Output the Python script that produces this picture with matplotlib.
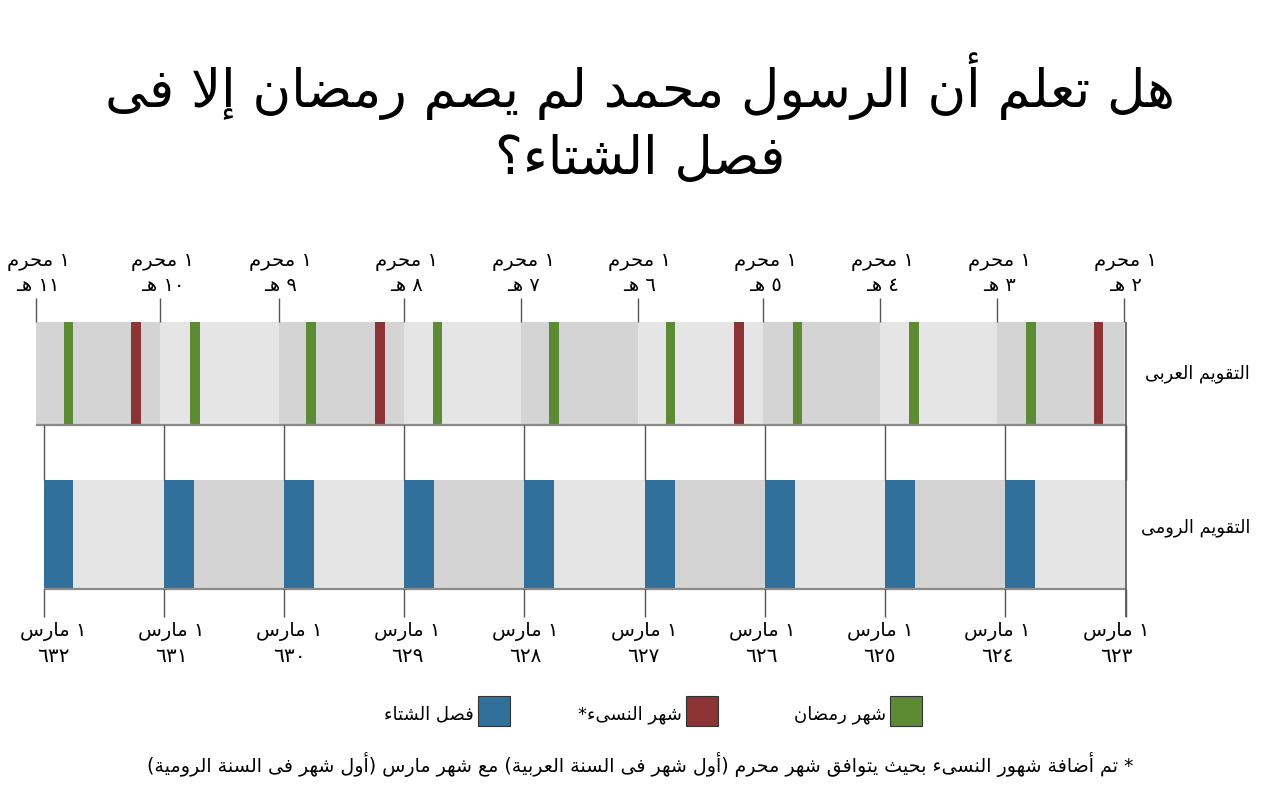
import re
import matplotlib
matplotlib.use('Agg')
import matplotlib.pyplot as plt
from matplotlib.patches import Rectangle

# ---- data (days counted from 1 March 623, time runs right -> left) ----
hijri_labels = ['٢', '٣', '٤', '٥', '٦', '٧', '٨', '٩', '١٠', '١١']
muharram_day = [6, 390, 746, 1101, 1483, 1837, 2192, 2573, 2933, 3311]
ramadan_day = [273, 629, 983, 1368, 1723, 2076, 2461, 2814, 3198]
nasi_day = [68, 1160, 2252, 2992]
month_len = 29

roman_labels = ['٦٢٣', '٦٢٤', '٦٢٥', '٦٢٦', '٦٢٧', '٦٢٨', '٦٢٩', '٦٣٠', '٦٣١', '٦٣٢']
march_day = [0, 366, 731, 1096, 1461, 1827, 2192, 2557, 2922, 3288]
winter_len = 90

title_lines = ['هل تعلم أن الرسول محمد لم يصم رمضان إلا فى', 'فصل الشتاء؟']
row_labels = ['التقويم العربى', 'التقويم الرومى']
legend_labels = ['شهر رمضان', 'شهر النسىء*', 'فصل الشتاء']
footnote = '* تم أضافة شهور النسىء بحيث يتوافق شهر محرم (أول شهر فى السنة العربية) مع شهر مارس (أول شهر فى السنة الرومية)'

GREEN = '#5c8a35'
RED = '#8c3335'
BLUE = '#30709a'
LIGHT = '#e5e5e5'
DARK = '#d4d4d4'

# ---- minimal arabic shaping (no reshaper lib available) ----
AR_LETTERS = 'ءآأؤإئابةتثجحخدذرزسشصضطظعغفقكلمنهوىي'
FORMS = {}
_code = 0xFE80
for _ch in AR_LETTERS:
    _n = 1 if _ch == 'ء' else (2 if _ch in 'آأؤإاةدذرزوى' else 4)
    FORMS[_ch] = [chr(_code + i) for i in range(_n)]
    _code += _n
LAM_ALEF = {'آ': 0xFEF5, 'أ': 0xFEF7, 'إ': 0xFEF9, 'ا': 0xFEFB}


def shape(text):
    toks = []
    i = 0
    while i < len(text):
        c = text[i]
        if c == 'ل' and i + 1 < len(text) and text[i + 1] in LAM_ALEF:
            b = LAM_ALEF[text[i + 1]]
            toks.append([chr(b), chr(b + 1)])
            i += 2
            continue
        if c in FORMS:
            toks.append(FORMS[c])
        elif c == 'ـ':
            toks.append('C')
        else:
            toks.append(c)
        i += 1

    def join_left(t):
        return t == 'C' or (isinstance(t, list) and len(t) == 4)

    def join_right(t):
        return t == 'C' or (isinstance(t, list) and len(t) >= 2)

    out = []
    for k, t in enumerate(toks):
        if isinstance(t, list):
            p = k > 0 and join_left(toks[k - 1]) and join_right(t)
            n = k + 1 < len(toks) and join_right(toks[k + 1]) and join_left(t)
            if len(t) == 1:
                out.append(t[0])
            elif len(t) == 2:
                out.append(t[1] if p else t[0])
            else:
                out.append(t[3] if (p and n) else t[1] if p else t[2] if n else t[0])
        elif t == 'C':
            out.append('ـ')
        else:
            out.append(t)
    runs = re.findall(r'[0-9\u0660-\u0669]+|[^0-9\u0660-\u0669]', ''.join(out))[::-1]
    mirror = {'(': ')', ')': '('}
    return ''.join(mirror.get(r, r) for r in runs)


plt.rcParams['font.family'] = ['DejaVu Sans']

fig = plt.figure(figsize=(12.8, 8), dpi=100)
# time axis: 0.3291 px per day, day 0 at x=1125.7 px
px_per_day = 0.3291
ax = fig.add_axes([0, 0, 1, 1])
ax.set_xlim(1125.7 / px_per_day, (1125.7 - 1280) / px_per_day)
ax.set_ylim(800, 0)
ax.axis('off')

ov = fig.add_axes([0, 0, 1, 1], zorder=3)
ov.set_xlim(0, 1280)
ov.set_ylim(800, 0)
ov.axis('off')
ov.patch.set_alpha(0)

# ---- top band: arabic calendar ----
top_y, top_h = 322, 103
edges = [0] + muharram_day
for k in range(len(edges) - 1):
    ax.broken_barh([(edges[k], edges[k + 1] - edges[k])], (top_y, top_h),
                   facecolor=LIGHT if k % 2 == 0 else DARK, edgecolor='none')
ax.broken_barh([(d, month_len) for d in ramadan_day], (top_y, top_h), facecolor=GREEN, edgecolor='none')
ax.broken_barh([(d, month_len) for d in nasi_day], (top_y, top_h), facecolor=RED, edgecolor='none')
ax.hlines(top_y + top_h, 0, muharram_day[-1], color='#8a8a8a', lw=1.6)

for d, lab in zip(muharram_day, hijri_labels):
    ax.vlines(d, 298, top_y, color='#555555', lw=1)
    ax.text(d - 6, 266, shape('١ محرم'), ha='center', va='baseline', fontsize=14)
    ax.text(d - 6, 291, shape(lab + ' هـ'), ha='center', va='baseline', fontsize=14)

# ---- bottom band: roman calendar ----
bot_y, bot_h = 480, 109
for k in range(len(march_day) - 1):
    ax.broken_barh([(march_day[k], march_day[k + 1] - march_day[k])], (bot_y, bot_h),
                   facecolor=LIGHT if k % 2 == 0 else DARK, edgecolor='none')
ax.broken_barh([(d - winter_len, winter_len) for d in march_day[1:]], (bot_y, bot_h),
               facecolor=BLUE, edgecolor='none')
ax.hlines(bot_y + bot_h, 0, march_day[-1], color='#8a8a8a', lw=1.6)

mid = march_day[-1] / 2
for d, lab in zip(march_day, roman_labels):
    ax.vlines(d, top_y + top_h, bot_y, color='#555555', lw=1)
    ax.vlines(d, bot_y + bot_h, 617, color='#555555', lw=1)
    lx = mid + (d - mid) * 0.982
    ax.text(lx, 636, shape('١ مارس'), ha='center', va='baseline', fontsize=14)
    ax.text(lx, 662, shape(lab), ha='center', va='baseline', fontsize=14.5)
ax.vlines(0, top_y, 617, color='#555555', lw=1.2)

# ---- texts in pixel space ----
ov.text(640, 107, shape(title_lines[0]), ha='center', va='baseline', fontsize=38)
ov.text(640, 174, shape(title_lines[1]), ha='center', va='baseline', fontsize=38)
ov.text(1250, 378, shape(row_labels[0]), ha='right', va='baseline', fontsize=12.8)
ov.text(1250, 532, shape(row_labels[1]), ha='right', va='baseline', fontsize=12.8)

for x0, col, lab in zip([890, 686, 478], [GREEN, RED, BLUE], legend_labels):
    ov.add_patch(Rectangle((x0, 696), 32, 30, facecolor=col, edgecolor='#333333', lw=0.8))
    ov.text(x0 - 4, 719, shape(lab), ha='right', va='baseline', fontsize=13)

ov.text(640, 772, shape(footnote), ha='center', va='baseline', fontsize=13.7)

fig.savefig('out.png', dpi=100)
